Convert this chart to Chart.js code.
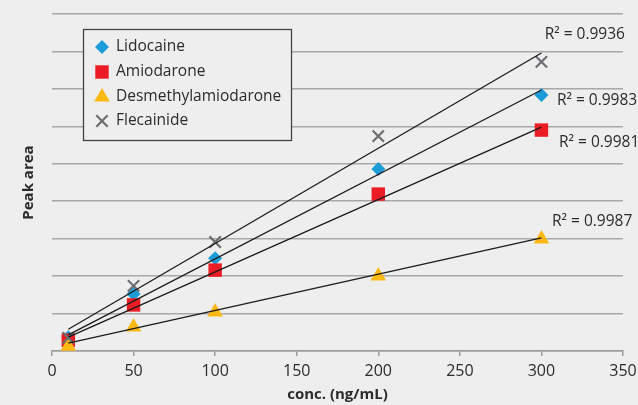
<!DOCTYPE html>
<html>
<head>
<meta charset="utf-8">
<script src="https://cdn.jsdelivr.net/npm/chart.js@4/dist/chart.umd.min.js"></script>
<style>
  html, body { margin: 0; padding: 0; background: #eeeeee; }
  #wrap { width: 638px; height: 405px; }
</style>
</head>
<body>
<div id="wrap"><canvas id="c" width="638" height="405"></canvas></div>
<script>
// ---- data ----
const concentrations = [10, 50, 100, 200, 300];
const seriesNames = ['Lidocaine', 'Amiodarone', 'Desmethylamiodarone', 'Flecainide'];
const lidocaine = [0.37, 1.52, 2.48, 4.86, 6.84];
const amiodarone = [0.29, 1.23, 2.16, 4.19, 5.90];
const desmethylamiodarone = [0.13, 0.64, 1.04, 2.00, 2.99];
const flecainide = [0.35, 1.74, 2.91, 5.74, 7.72];

// trend lines (end points)
const trendX = [10, 300];
const trendLidocaine = [0.43, 6.97];
const trendAmiodarone = [0.37, 5.98];
const trendDesmethyl = [0.21, 3.02];
const trendFlecainide = [0.58, 7.96];

// R² labels
const r2Texts = ['R² = 0.9936', 'R² = 0.9983', 'R² = 0.9981', 'R² = 0.9987'];
const r2X = [302, 309.5, 310.8, 306.5];
const r2Y = [8.44, 6.70, 5.56, 3.45];

const xTicks = [0, 50, 100, 150, 200, 250, 300, 350];

// ---- styling ----
const FONT = "'Open Sans', 'Noto Sans', sans-serif";
const TEXT = '#2b2b2b';
const colors = ['#1b9bd7', '#ec1c24', '#fdb913', '#6d6e71'];
const styles = ['rectRot', 'rect', 'triangle', 'crossRot'];
const radii = [7, 9.5, 9, 8];

function pts(xs, ys) { return xs.map((x, i) => ({ x: x, y: ys[i] })); }

const seriesData = [lidocaine, amiodarone, desmethylamiodarone, flecainide];
const trendData = [trendLidocaine, trendAmiodarone, trendDesmethyl, trendFlecainide];

const datasets = [];
// trend lines first => drawn on top
trendData.forEach((t, i) => {
  datasets.push({
    label: 'trend ' + seriesNames[i],
    data: pts(trendX, t),
    showLine: true,
    borderColor: '#1a1a1a',
    borderWidth: 1.3,
    pointRadius: 0,
    fill: false
  });
});
// markers: gray on top, then yellow, red, blue
[3, 2, 1, 0].forEach(i => {
  datasets.push({
    label: seriesNames[i],
    data: pts(concentrations, seriesData[i]),
    showLine: false,
    pointStyle: styles[i],
    pointRadius: radii[i],
    pointHoverRadius: radii[i],
    backgroundColor: colors[i],
    borderColor: colors[i],
    borderWidth: i === 3 ? 2.2 : 0
  });
});

const annotPlugin = {
  id: 'annot',
  afterDatasetsDraw(chart) {
    const ctx = chart.ctx;
    const xs = chart.scales.x, ys = chart.scales.y;
    ctx.save();
    ctx.fillStyle = TEXT;
    ctx.font = "15.5px " + FONT;
    ctx.textAlign = 'left';
    ctx.textBaseline = 'middle';
    r2Texts.forEach((t, i) => {
      ctx.fillText(t, xs.getPixelForValue(r2X[i]), ys.getPixelForValue(r2Y[i]));
    });
    ctx.restore();

    // legend box
    ctx.save();
    const bx = 83.5, by = 29.5, bw = 208, bh = 111;
    ctx.fillStyle = '#eeeeee';
    ctx.fillRect(bx, by, bw, bh);
    ctx.strokeStyle = '#444444';
    ctx.lineWidth = 1.3;
    ctx.strokeRect(bx, by, bw, bh);
    const rowY = [47, 72, 97, 121];
    seriesNames.forEach((name, i) => {
      const cx = 102, cy = rowY[i];
      ctx.fillStyle = colors[i];
      ctx.strokeStyle = colors[i];
      ctx.lineWidth = i === 3 ? 2.2 : 1;
      Chart.helpers.drawPoint(ctx, { pointStyle: styles[i], radius: radii[i], borderWidth: i === 3 ? 2.2 : 0 }, cx, cy);
      ctx.fillStyle = TEXT;
      ctx.font = "15.5px " + FONT;
      ctx.textAlign = 'left';
      ctx.textBaseline = 'middle';
      ctx.fillText(name, 116, cy);
    });
    ctx.restore();
  }
};

new Chart(document.getElementById('c'), {
  type: 'scatter',
  data: { datasets: datasets },
  plugins: [annotPlugin],
  options: {
    responsive: false,
    animation: false,
    events: [],
    layout: { padding: { top: 14, right: 15, left: 0, bottom: 0 } },
    plugins: {
      legend: { display: false },
      tooltip: { enabled: false },
      title: { display: false }
    },
    scales: {
      x: {
        type: 'linear',
        min: 0, max: 350,
        afterBuildTicks(axis) { axis.ticks = xTicks.map(v => ({ value: v })); },
        afterFit(axis) { axis.height = 54; axis.paddingLeft = 0; axis.paddingRight = 0; },
        ticks: {
          color: TEXT,
          font: { family: FONT, size: 16 },
          padding: 6,
          maxRotation: 0
        },
        grid: {
          drawOnChartArea: false,
          drawTicks: true,
          tickLength: 5,
          color: '#9a9a9a',
          lineWidth: 1.5
        },
        border: { display: true, color: '#9a9a9a', width: 1.5 },
        title: {
          display: true,
          text: 'conc. (ng/mL)',
          color: TEXT,
          font: { family: FONT, size: 15, weight: 'bold', lineHeight: 1.2 },
          padding: { top: 0, bottom: 1 }
        }
      },
      y: {
        type: 'linear',
        min: 0, max: 9,
        afterFit(axis) { axis.width = 52; },
        ticks: { display: false, stepSize: 1 },
        grid: {
          color: '#a8a8a8',
          lineWidth: 1.5,
          drawTicks: false
        },
        border: { display: false },
        title: {
          display: true,
          text: 'Peak area',
          color: TEXT,
          font: { family: FONT, size: 15, weight: 'bold', lineHeight: 1.2 },
          padding: { top: 20, bottom: 0 }
        }
      }
    }
  }
});
</script>
</body>
</html>
